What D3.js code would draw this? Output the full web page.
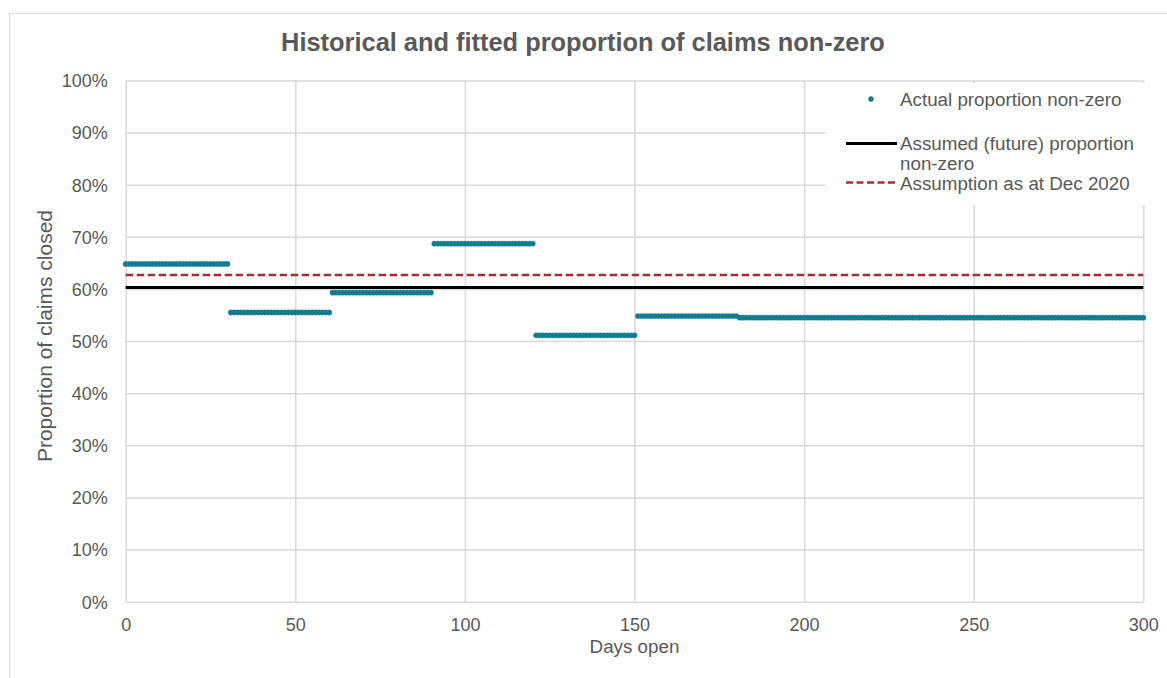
<!DOCTYPE html>
<html>
<head>
<meta charset="utf-8">
<script src="https://cdn.jsdelivr.net/npm/d3@7"></script>
<style>
  html, body { margin: 0; padding: 0; background: #ffffff; }
  svg { display: block; font-family: "Liberation Sans", Arial, sans-serif; }
</style>
</head>
<body>
<svg id="chart" width="1167" height="678"></svg>
<script>
// Claim-duration buckets (days open) and the observed proportion of claims
// closed with a non-zero payment in each bucket.
const bucketFrom = [0, 31, 61, 91, 121, 151, 181];
const bucketTo   = [30, 60, 90, 120, 150, 180, 300];
const bucketRate = [0.648, 0.555, 0.593, 0.687, 0.511, 0.548, 0.545];

// Flat assumptions across the whole duration range
const assumedRate = 0.603;   // assumed (future) proportion non-zero
const priorRate   = 0.627;   // assumption as at Dec 2020

const xTicks = [0, 50, 100, 150, 200, 250, 300];
const yTicks = [0, 0.1, 0.2, 0.3, 0.4, 0.5, 0.6, 0.7, 0.8, 0.9, 1.0];

const titleText = "Historical and fitted proportion of claims non-zero";
const xTitle = "Days open";
const yTitle = "Proportion of claims closed";
const legendLabels = ["Actual proportion non-zero", "Assumed (future) proportion", "non-zero", "Assumption as at Dec 2020"];

// One point per day, each day carrying its bucket's proportion
const points = [];
bucketFrom.forEach((from, i) => {
  d3.range(from, bucketTo[i] + 1).forEach(day => points.push({ day, rate: bucketRate[i] }));
});

const textColor = "#595959";
const gridColor = "#d9d9d9";
const dotColor = "#0f7a8e";
const priorColor = "#a52f2f";

const svg = d3.select("#chart");
svg.append("rect").attr("width", 1167).attr("height", 678).attr("fill", "#fff");

// Chart frame
svg.append("rect")
  .attr("x", 9.5).attr("y", 13.5).attr("width", 1200).attr("height", 700)
  .attr("fill", "none").attr("stroke", gridColor).attr("stroke-width", 1);

const plot = { left: 125.7, right: 1143.3, top: 80.5, bottom: 601.7 };

const x = d3.scaleLinear().domain([0, 300]).range([plot.left, plot.right]);
const y = d3.scaleLinear().domain([0, 1]).range([plot.bottom, plot.top]);

// Gridlines and tick labels
const gx = svg.append("g")
  .attr("transform", `translate(0,${plot.bottom})`)
  .call(d3.axisBottom(x).tickValues(xTicks).tickSize(-(plot.bottom - plot.top)).tickFormat(d3.format("d")));
gx.select(".domain").remove();
gx.selectAll(".tick line").attr("stroke", gridColor).attr("stroke-width", 1.5);
gx.selectAll(".tick text").attr("fill", textColor).attr("font-size", 18).attr("dy", "0.71em").attr("y", 17);

const gy = svg.append("g")
  .attr("transform", `translate(${plot.left},0)`)
  .call(d3.axisLeft(y).tickValues(yTicks).tickSize(-(plot.right - plot.left)).tickFormat(d3.format(".0%")).tickPadding(18));
gy.select(".domain").remove();
gy.selectAll(".tick line").attr("stroke", gridColor).attr("stroke-width", 1.5);
gy.selectAll(".tick text").attr("fill", textColor).attr("font-size", 18).attr("dy", "0.35em");
gx.raise();

// Assumption lines
const flat = (v) => d3.line().x(d => x(d)).y(() => y(v))([0, 300]);
svg.append("path").attr("d", flat(priorRate))
  .attr("fill", "none").attr("stroke", priorColor).attr("stroke-width", 2.5)
  .attr("stroke-dasharray", "7.5,3.5");
svg.append("path").attr("d", flat(assumedRate))
  .attr("fill", "none").attr("stroke", "#000").attr("stroke-width", 3);

// Daily actual proportions
svg.append("g").selectAll("circle").data(points).join("circle")
  .attr("cx", d => x(d.day)).attr("cy", d => y(d.rate)).attr("r", 2.7)
  .attr("fill", dotColor).attr("stroke", "#2a8fa2").attr("stroke-width", 0.4);

// Titles
svg.append("text").attr("x", 583).attr("y", 51).attr("text-anchor", "middle")
  .attr("font-size", 25.4).attr("font-weight", "bold").attr("fill", textColor).text(titleText);
svg.append("text").attr("x", 634.5).attr("y", 653).attr("text-anchor", "middle")
  .attr("font-size", 18.8).attr("fill", textColor).text(xTitle);
svg.append("text").attr("transform", "translate(52,336) rotate(-90)").attr("text-anchor", "middle")
  .attr("font-size", 21).attr("fill", textColor).text(yTitle);

// Legend
const lg = svg.append("g");
lg.append("rect").attr("x", 826).attr("y", 83).attr("width", 324).attr("height", 122).attr("fill", "#fff");
lg.append("circle").attr("cx", 871).attr("cy", 99).attr("r", 2.7).attr("fill", dotColor);
lg.append("line").attr("x1", 846).attr("x2", 897).attr("y1", 143.5).attr("y2", 143.5)
  .attr("stroke", "#000").attr("stroke-width", 3);
lg.append("line").attr("x1", 846).attr("x2", 897).attr("y1", 182.5).attr("y2", 182.5)
  .attr("stroke", priorColor).attr("stroke-width", 2.5).attr("stroke-dasharray", "7,3.5");
const legendBaselines = [106, 150, 170, 189.5];
legendLabels.forEach((t, i) => {
  lg.append("text").attr("x", 900).attr("y", legendBaselines[i])
    .attr("font-size", 18.8).attr("fill", textColor).text(t);
});
</script>
</body>
</html>
